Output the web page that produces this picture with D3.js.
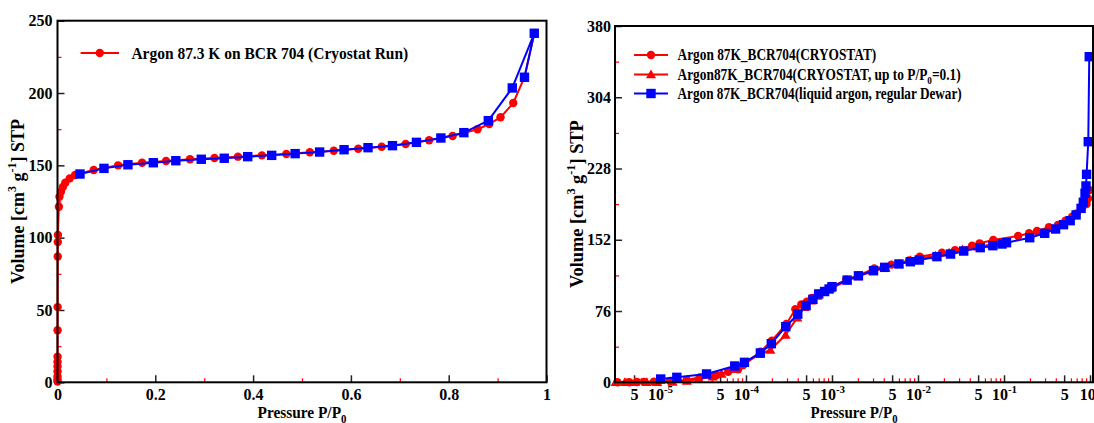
<!DOCTYPE html>
<html>
<head>
<meta charset="utf-8">
<script src="https://cdn.jsdelivr.net/npm/d3@7"></script>
<style>
  html, body { margin: 0; padding: 0; background: #fff; }
  svg { display: block; font-family: "Liberation Serif", "Times New Roman", serif; font-weight: bold; }
</style>
</head>
<body>
<svg id="chart" width="1094" height="423"></svg>
<script>
// ---------- Left panel: linear P/P0 ----------
const leftCryoP = [1e-5, 2e-5, 3e-5, 5e-5, 7e-5, 8.5e-5, 1e-4, 1.6e-4, 2.3e-4, 4.5e-4, 6e-4, 8e-4,
  2.8e-3, 4e-3, 7e-3, 1.1e-2, 1.6e-2, 2.5e-2, 3.6e-2, 0.074, 0.124, 0.173, 0.222, 0.271, 0.321,
  0.369, 0.418, 0.468, 0.516, 0.565, 0.615, 0.663, 0.712, 0.760, 0.808, 0.859, 0.883, 0.906,
  0.932, 0.955, 0.975];
const leftCryoV = [0.5, 2, 4, 7.5, 11, 14, 17.7, 36, 52, 87, 97, 101.8,
  121.4, 128.3, 131.8, 135, 138, 141, 143.3, 146.8, 150, 151.8, 153, 154.2, 155.1,
  156, 156.9, 157.8, 159, 160.1, 161.5, 162.9, 164.8, 167.3, 170.3, 174.9, 178.6, 183.2,
  193.1, 211, 241.3];

const leftDewarP = [0.046, 0.095, 0.144, 0.196, 0.242, 0.294, 0.341, 0.389, 0.438, 0.486, 0.536,
  0.586, 0.635, 0.685, 0.734, 0.784, 0.831, 0.881, 0.930, 0.975, 0.955];
const leftDewarV = [144.0, 147.9, 150.4, 151.8, 153.2, 154.2, 154.9, 156.0, 156.9, 158.1, 159.2,
  160.8, 162.2, 163.6, 165.9, 168.9, 172.6, 180.9, 203.5, 241.3, 210.9];

const leftXTicks = [0, 0.2, 0.4, 0.6, 0.8, 1];
const leftXLabels = ["0", "0.2", "0.4", "0.6", "0.8", "1"];
const leftXMinor = [0.1, 0.3, 0.5, 0.7, 0.9];
const leftYTicks = [0, 50, 100, 150, 200, 250];
const leftYMinor = [25, 75, 125, 175, 225];
const leftLegend = "Argon 87.3 K on BCR 704 (Cryostat Run)";

// ---------- Right panel: logarithmic P/P0 ----------
const rightCryoP = [3.2e-6, 4.4e-6, 5.4e-6, 6.5e-6, 8.5e-6, 1.31e-5, 2.05e-5, 2.9e-5, 4.55e-5, 6.2e-5,
  8.1e-5, 9.3e-5, 1.47e-4, 2.0e-4, 2.95e-4, 3.75e-4, 4.4e-4, 5.1e-4, 5.85e-4, 6.85e-4, 8.0e-4,
  9.3e-4, 1.46e-3, 2.04e-3, 3.1e-3, 4.9e-3, 7.9e-3, 1.05e-2, 1.9e-2, 2.7e-2, 4.25e-2, 5.2e-2,
  7.5e-2, 0.146, 0.196, 0.242, 0.333, 0.423, 0.519, 0.62, 0.70, 0.807, 0.912, 0.95, 0.99];
const rightCryoV = [0, 0, 0.3, 0.5, 0.6, 1.4, 2.5, 5.3, 7.8, 11.3,
  13.9, 18.5, 32.6, 44.4, 62.2, 77.9, 83, 86, 90, 94.5, 97.5,
  100.5, 109.5, 114, 121.5, 125.5, 130, 134, 138.2, 141, 145.7, 148.2,
  151.8, 156, 158.9, 161.4, 165.3, 167.8, 172.4, 176.6, 180.2, 185.6, 190.2, 196, 205];

const rightCryoLowP = [3.05e-6, 3.9e-6, 5.1e-6, 7.0e-6, 9.3e-6, 1.4e-5, 2.05e-5, 2.8e-5, 4.1e-5,
  5.2e-5, 7.6e-5, 1.44e-4, 1.92e-4, 2.88e-4, 3.95e-4, 4.8e-4, 5.8e-4, 6.75e-4, 7.9e-4, 9.7e-4,
  1.5e-3, 2.0e-3, 3.0e-3, 4.2e-3, 6.0e-3, 8.2e-3, 1.05e-2, 1.6e-2, 2.3e-2, 3.3e-2, 5.0e-2,
  7.2e-2, 0.1];
const rightCryoLowV = [0, 0, 0, 0, 0, 0.5, 1.5, 3.5, 6,
  8.9, 13.9, 30, 34.4, 50.4, 69, 80, 87, 92, 96, 100,
  108.5, 113, 118.5, 122, 126.5, 130, 132, 135, 138, 141.5, 144.5,
  147, 149];

const rightDewarP = [1.02e-5, 1.57e-5, 3.48e-5, 7.4e-5, 9.6e-5, 1.47e-4, 1.97e-4, 2.9e-4, 4.0e-4,
  5.0e-4, 6.0e-4, 7.0e-4, 8.2e-4, 9.25e-4, 1.0e-3, 1.5e-3, 2.03e-3, 3.04e-3, 4.1e-3, 6.0e-3,
  8.15e-3, 1.03e-2, 1.66e-2, 2.39e-2, 3.4e-2, 5.29e-2, 7.41e-2, 9.49e-2, 0.107, 0.199, 0.297,
  0.398, 0.492, 0.588, 0.689, 0.787, 0.836, 0.875, 0.898, 0.912, 0.954, 0.98];
const rightDewarV = [3.5, 5.3, 8.9, 17.4, 21.3, 31.3, 41.2, 59.3, 72.7,
  81.8, 88.5, 94.2, 96.8, 99.5, 102, 109, 113.6, 119, 122.6, 126.2,
  128.6, 130.4, 134, 136.8, 140, 143.6, 145.7, 147.5, 148.9, 154.2, 158.9,
  163.5, 168.1, 172.4, 178.5, 185.5, 192, 201.6, 209.4, 221.8, 256.6, 347.3];

const rightXDomain = [3.0e-6, 1.083];
const rightXExponents = [-5, -4, -3, -2, -1, 0];
const rightYTicks = [0, 76, 152, 228, 304, 380];
const rightYMinor = [38, 114, 190, 266, 342];
const rightLegend = [
  [{ t: "Argon 87K_BCR704(CRYOSTAT)" }],
  [{ t: "Argon87K_BCR704(CRYOSTAT, up to P/P" }, { t: "0", sub: true }, { t: "=0.1)" }],
  [{ t: "Argon 87K_BCR704(liquid argon, regular Dewar)" }]
];

const yTitleParts = [{ t: "Volume [cm" }, { t: "3", sup: true }, { t: " g" }, { t: "-1", sup: true }, { t: "] STP" }];
const xTitleParts = [{ t: "Pressure P/P" }, { t: "0", sub: true }];

// ---------- drawing ----------
const RED = "#ff0000", BLUE = "#0000ff";
const FONT = '"Liberation Serif", "Times New Roman", serif';
const TICK_FS = 16;
const svg = d3.select("#chart");

const zip = (xs, ys) => xs.map((x, i) => [x, ys[i]]);

// writes plain/super/subscript runs into a text element (no dy on unshifted runs)
function runs(text, parts, fs) {
  let shift = 0;
  const small = Math.round(fs * 0.68);
  parts.forEach(p => {
    const target = p.sup ? -fs * 0.42 : p.sub ? fs * 0.28 : 0;
    const ts = text.append("tspan")
      .attr("font-size", (p.sup || p.sub) ? small : fs)
      .text(p.t);
    if (target - shift !== 0) ts.attr("dy", target - shift);
    shift = target;
  });
}

// text that is stretched/squeezed along its direction to a given length
function fittedText(parent, parts, fs, len, x, y, rot, anchor) {
  const g = parent.append("g");
  const t = g.append("text").attr("font-size", fs).attr("text-anchor", anchor)
    .attr("font-family", FONT).attr("font-weight", "bold").attr("fill", "#000");
  runs(t, parts, fs);
  const w = t.node().getComputedTextLength();
  g.attr("transform", `translate(${x},${y}) rotate(${rot}) scale(${len / w},1)`);
  return g;
}

function styleAxis(g, color, width) {
  g.select(".domain").remove();
  g.attr("font-family", FONT).attr("font-size", TICK_FS).attr("font-weight", "bold");
  g.selectAll(".tick line").attr("stroke", color).attr("stroke-width", width);
  g.selectAll(".tick text").attr("fill", "#000");
}

function marker(sel, shape, color, size) {
  if (shape === "circle") {
    sel.append("circle").attr("r", size).attr("fill", color);
  } else if (shape === "square") {
    sel.append("rect").attr("x", -size).attr("y", -size).attr("width", 2 * size).attr("height", 2 * size).attr("fill", color);
  } else {
    const h = size * 1.15;
    sel.append("path").attr("d", `M0,${-h}L${h},${h * 0.75}L${-h},${h * 0.75}Z`).attr("fill", color);
  }
}

function series(g, x, y, data, color, shape, size) {
  const line = d3.line().x(d => x(d[0])).y(d => y(d[1]));
  g.append("path").datum(data).attr("d", line).attr("fill", "none")
    .attr("stroke", color).attr("stroke-width", 2).attr("stroke-linejoin", "round");
  g.selectAll(null).data(data).join("g")
    .attr("transform", d => `translate(${x(d[0])},${y(d[1])})`)
    .each(function () { marker(d3.select(this), shape, color, size); });
}

function legendRow(g, x1, x2, y, color, shape, size) {
  g.append("line").attr("x1", x1).attr("x2", x2).attr("y1", y).attr("y2", y)
    .attr("stroke", color).attr("stroke-width", 2);
  marker(g.append("g").attr("transform", `translate(${(x1 + x2) / 2},${y})`), shape, color, size);
}

// ===== Left panel =====
const L = { x0: 57.5, x1: 546.5, y0: 20.7, y1: 382.3 };
const lx = d3.scaleLinear().domain([0, 1]).range([L.x0, L.x1]);
const ly = d3.scaleLinear().domain([0, 250]).range([L.y1, L.y0]);
const gl = svg.append("g");

gl.append("g").attr("transform", `translate(0,${L.y1})`)
  .call(d3.axisBottom(lx).tickValues(leftXMinor).tickFormat("").tickSize(-4).tickSizeOuter(0))
  .call(g => styleAxis(g, RED, 1.2));
gl.append("g").attr("transform", `translate(${L.x0},0)`)
  .call(d3.axisLeft(ly).tickValues(leftYMinor).tickFormat("").tickSize(-4).tickSizeOuter(0))
  .call(g => styleAxis(g, RED, 1.2));
gl.append("g").attr("transform", `translate(0,${L.y1})`)
  .call(d3.axisBottom(lx).tickValues(leftXTicks)
    .tickFormat(d => leftXLabels[leftXTicks.indexOf(d)]).tickSize(-7).tickSizeOuter(0).tickPadding(6))
  .call(g => styleAxis(g, "#222", 1.5));
gl.append("g").attr("transform", `translate(${L.x0},0)`)
  .call(d3.axisLeft(ly).tickValues(leftYTicks).tickSize(-7).tickSizeOuter(0).tickPadding(5))
  .call(g => styleAxis(g, "#222", 1.5));

series(gl, lx, ly, zip(leftCryoP, leftCryoV), RED, "circle", 4.2);
series(gl, lx, ly, zip(leftDewarP, leftDewarV), BLUE, "square", 4.7);

gl.append("rect").attr("x", L.x0).attr("y", L.y0).attr("width", L.x1 - L.x0).attr("height", L.y1 - L.y0)
  .attr("fill", "none").attr("stroke", "#000").attr("stroke-width", 2);

legendRow(gl, 80.6, 119, 53, RED, "circle", 4.2);
fittedText(gl, [{ t: leftLegend }], 16, 277, 131.4, 58.5, 0, "start");

fittedText(gl, yTitleParts, 18, 165, 24, (L.y0 + L.y1) / 2, -90, "middle");
fittedText(gl, xTitleParts, 17, 89, (L.x0 + L.x1) / 2, 418, 0, "middle");

// ===== Right panel =====
const R = { x0: 615, x1: 1093, y0: 26, y1: 382.3 };
const rx = d3.scaleLog().domain(rightXDomain).range([R.x0, R.x1]);
const ry = d3.scaleLinear().domain([0, 380]).range([R.y1, R.y0]);
const gr = svg.append("g");

const rMajor = [], rMinor = [];
rightXExponents.forEach(e => {
  [1, 2, 3, 4, 5, 6, 7, 8, 9].forEach(m => {
    const v = m * Math.pow(10, e - 1);
    if (v < rightXDomain[0] || v > rightXDomain[1]) return;
    (m === 1 || m === 5 ? rMajor : rMinor).push(v);
  });
});
rMajor.push(1);

gr.append("g").attr("transform", `translate(0,${R.y1})`)
  .call(d3.axisBottom(rx).tickValues(rMinor).tickFormat("").tickSize(-4).tickSizeOuter(0))
  .call(g => styleAxis(g, RED, 1.2));
gr.append("g").attr("transform", `translate(${R.x0},0)`)
  .call(d3.axisLeft(ry).tickValues(rightYMinor).tickFormat("").tickSize(-4).tickSizeOuter(0))
  .call(g => styleAxis(g, RED, 1.2));
const rxAxis = gr.append("g").attr("transform", `translate(0,${R.y1})`)
  .call(d3.axisBottom(rx).tickValues(rMajor).tickFormat("").tickSize(-7).tickSizeOuter(0))
  .call(g => styleAxis(g, "#222", 1.5));
rxAxis.selectAll(".tick text").each(function (d) {
  const t = d3.select(this).text(null).attr("dy", null).attr("y", 17.5);
  const e = Math.round(Math.log10(d));
  const isFive = Math.abs(d / Math.pow(10, e) - 1) > 0.01;
  if (isFive) runs(t, [{ t: "5" }], TICK_FS);
  else runs(t, [{ t: "10" }, { t: String(e), sup: true }], TICK_FS);
});
gr.append("g").attr("transform", `translate(${R.x0},0)`)
  .call(d3.axisLeft(ry).tickValues(rightYTicks).tickSize(-7).tickSizeOuter(0).tickPadding(4))
  .call(g => styleAxis(g, "#222", 1.5));

series(gr, rx, ry, zip(rightCryoP, rightCryoV), RED, "circle", 4.2);
series(gr, rx, ry, zip(rightCryoLowP, rightCryoLowV), RED, "triangle", 4.4);
series(gr, rx, ry, zip(rightDewarP, rightDewarV), BLUE, "square", 4.7);

gr.append("rect").attr("x", R.x0).attr("y", R.y0).attr("width", R.x1 - R.x0).attr("height", R.y1 - R.y0)
  .attr("fill", "none").attr("stroke", "#000").attr("stroke-width", 2);

const legendStyle = [[RED, "circle", 4.2], [RED, "triangle", 4.4], [BLUE, "square", 4.7]];
const legendY = [55, 74.5, 93.5];
const legendLen = [199, 283.5, 284.5];
rightLegend.forEach((parts, i) => {
  legendRow(gr, 634, 668, legendY[i], ...legendStyle[i]);
  fittedText(gr, parts, 16, legendLen[i], 677.5, legendY[i] + 5, 0, "start");
});

fittedText(gr, yTitleParts, 18, 168, 583, (R.y0 + R.y1) / 2, -90, "middle");
fittedText(gr, xTitleParts, 17, 87, (R.x0 + R.x1) / 2, 418, 0, "middle");
</script>
</body>
</html>
